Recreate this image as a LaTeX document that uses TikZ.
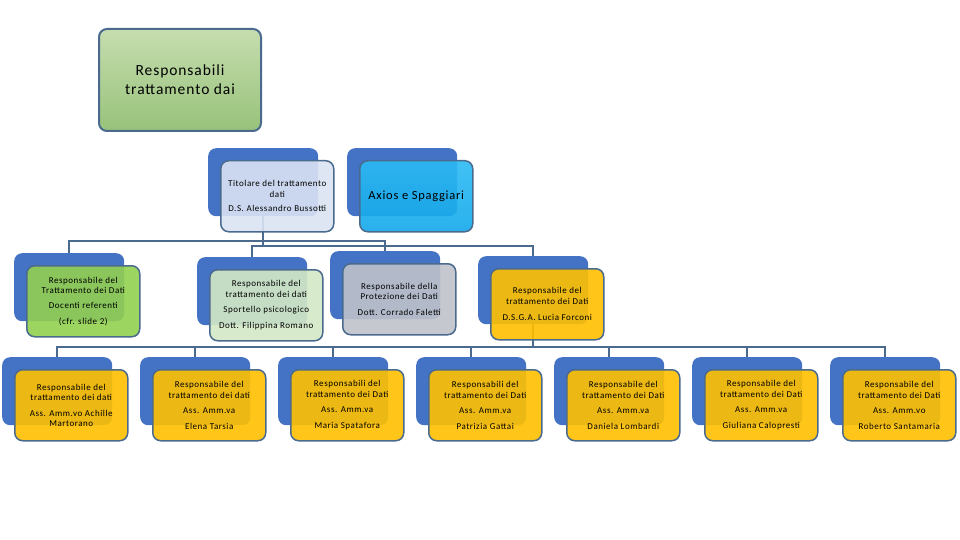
\documentclass[tikz,border=0pt]{standalone}
\usepackage{fontspec}
\setmainfont{Carlito}[LetterSpace=6]
\usetikzlibrary{positioning}

\definecolor{backblue}{HTML}{4472C4}
\definecolor{edgeblue}{HTML}{4A6A8E}
\definecolor{titlegreenA}{HTML}{C6DDAF}
\definecolor{titlegreenB}{HTML}{98C27A}
\definecolor{lavender}{HTML}{DAE3F3}
\definecolor{skyA}{HTML}{2CBBF4}
\definecolor{skyB}{HTML}{12A8EA}
\definecolor{leafgreen}{HTML}{92D050}
\definecolor{palegreen}{HTML}{D4E8C6}
\definecolor{slategray}{HTML}{BFC2CA}
\definecolor{gold}{HTML}{FFC000}

\begin{document}
\begin{tikzpicture}[x=1pt,y=-1pt,
  back/.style={fill=backblue, rounded corners=8pt, minimum width=110pt,
    minimum height=68pt, inner sep=0pt, anchor=north west},
  front/.style={draw=edgeblue, line width=1.5pt, fill opacity=0.9,
    text opacity=1, rounded corners=8pt, minimum width=113pt,
    minimum height=71pt, inner sep=2pt, align=center, anchor=north west,
    font=\fontsize{9}{10.5}\selectfont},
  link/.style={draw=edgeblue, line width=1.6pt}]
  \useasboundingbox (0,0) rectangle (960,540);

  % title
  \node[draw=edgeblue, line width=2pt, rounded corners=8pt,
    top color=titlegreenA, bottom color=titlegreenB,
    minimum width=162pt, minimum height=102pt, anchor=north west,
    align=center, font=\fontsize{15.5}{19}\selectfont] (title) at (98,28)
    {Responsabili\\trattamento dai};

  \coordinate (busA) at (0,241);
  \coordinate (busB) at (0,246);
  \coordinate (busC) at (0,347);

  % back boxes
  \node[back] (btit) at (208,148) {};
  \node[back] (baxi) at (347,148) {};
  \node[back] (bdoc) at (14,253) {};
  \node[back] (bspo) at (197,257) {};
  \node[back] (bpro) at (330,251) {};
  \node[back] (bdsg) at (478,256) {};
  \foreach \k in {1,...,7}
    \node[back] (r\k) at ({2+138*(\k-1)},357) {};

  % connectors
  \draw[link] (btit.south) -- (btit.south |- busB);
  \draw[link] (bdoc.north) -- (bdoc.north |- busA) -- (bpro.north |- busA) -- (bpro.north);
  \draw[link] (bspo.north) -- (bspo.north |- busB) -- (bdsg.north |- busB) -- (bdsg.north);
  \draw[link] (bdsg.south) -- (bdsg.south |- busC);
  \draw[link] (r1.north) -- (r1.north |- busC) -- (r7.north |- busC) -- (r7.north);
  \foreach \k in {2,...,6}
    \draw[link] (r\k.north) -- (r\k.north |- busC);

  % front boxes
  \node[front, fill=lavender] (ftit) at (220,160)
    {Titolare del trattamento\\dati\\[4pt]D.S. Alessandro Bussotti};
  \node[front, top color=skyA, bottom color=skyB,
    font=\fontsize{12.5}{15}\selectfont] (faxi) at (359,160) {Axios e Spaggiari};
  \node[front, fill=leafgreen] (fdoc) at (26,265)
    {Responsabile del\\Trattamento dei Dati\\[4pt]Docenti referenti\\[6pt](cfr. slide 2)};
  \node[front, fill=palegreen] (fspo) at (209,269)
    {Responsabile del\\trattamento dei dati\\[5pt]Sportello psicologico\\[5pt]Dott. Filippina Romano};
  \node[front, fill=slategray] (fpro) at (342,263)
    {Responsabile della\\Protezione dei Dati\\[5pt]Dott. Corrado Faletti};
  \node[front, fill=gold] (fdsg) at (490,268)
    {Responsabile del\\trattamento dei Dati\\[6pt]D.S.G.A. Lucia Forconi};

  \node[front, fill=gold] (s1) at (14,369)
    {Responsabile del\\trattamento dei dati\\[5pt]Ass. Amm.vo Achille\\Martorano};
  \node[front, fill=gold] (s2) at (152,369)
    {Responsabile del\\trattamento dei dati\\[5pt]Ass. Amm.va\\[5pt]Elena Tarsia};
  \node[front, fill=gold] (s3) at (290,369)
    {Responsabili del\\trattamento dei Dati\\[5pt]Ass. Amm.va\\[5pt]Maria Spatafora};
  \node[front, fill=gold] (s4) at (428,369)
    {Responsabili del\\trattamento dei Dati\\[5pt]Ass. Amm.va\\[5pt]Patrizia Gattai};
  \node[front, fill=gold] (s5) at (566,369)
    {Responsabile del\\trattamento dei Dati\\[5pt]Ass. Amm.va\\[5pt]Daniela Lombardi};
  \node[front, fill=gold] (s6) at (704,369)
    {Responsabile del\\trattamento dei Dati\\[5pt]Ass. Amm.va\\[5pt]Giuliana Calopresti};
  \node[front, fill=gold] (s7) at (842,369)
    {Responsabile del\\trattamento dei Dati\\[5pt]Ass. Amm.vo\\[5pt]Roberto Santamaria};
\end{tikzpicture}
\end{document}
